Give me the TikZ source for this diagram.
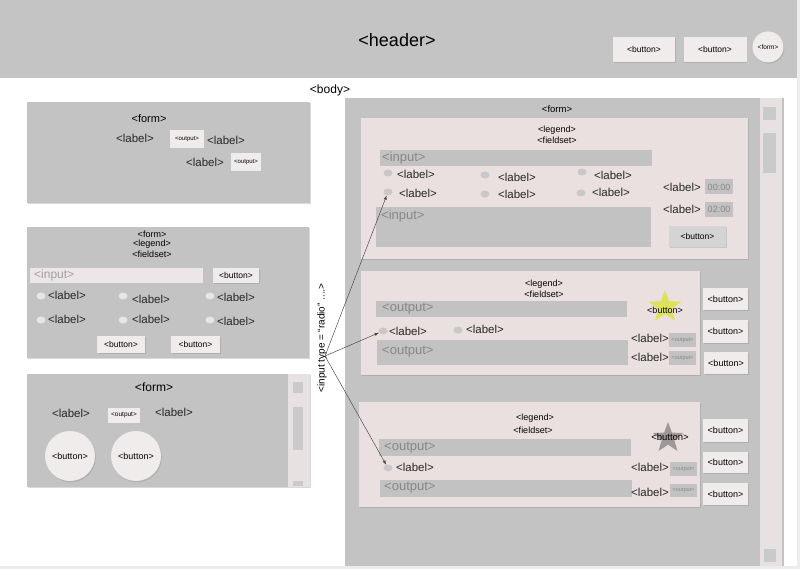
\documentclass[tikz,border=0pt]{standalone}
\usepackage{fontspec}
\setmainfont{Liberation Sans}
\usepackage{tikz}
\usetikzlibrary{shapes.geometric, shadows}
\definecolor{hdrgray}{RGB}{196,196,196}
\definecolor{formgray}{RGB}{195,195,195}
\definecolor{fsetpink}{RGB}{235,224,224}
\definecolor{btnpink}{RGB}{241,236,236}
\definecolor{barpink}{RGB}{237,230,230}
\definecolor{bargray}{RGB}{194,194,194}
\definecolor{scrollpink}{RGB}{232,225,225}
\definecolor{thumbgray}{RGB}{202,202,202}
\definecolor{dotgray}{RGB}{200,200,200}
\definecolor{dotlight}{RGB}{230,230,230}
\definecolor{hintgray}{RGB}{135,135,135}
\definecolor{framegray}{RGB}{236,236,236}
\definecolor{staryellow}{RGB}{222,226,90}
\definecolor{stargray}{RGB}{160,152,152}
\newcommand{\fsz}[1]{\fontsize{#1}{#1}\selectfont}

\begin{document}
\begin{tikzpicture}[x=1pt, y=-1pt, >=latex,
    soft/.style={drop shadow={shadow xshift=0.8pt, shadow yshift=-1.2pt, opacity=0.3}},
    btn/.style={fill=btnpink, inner sep=0pt, font=\fsz{8.5}, soft},
    outbox/.style={fill=btnpink, inner sep=0pt, font=\fsz{6}},
    tinyout/.style={fill=bargray, inner sep=0pt, text=hintgray, font=\fsz{5.5}, minimum width=27, minimum height=14},
    timebox/.style={fill=bargray, inner sep=1pt, text=hintgray, font=\fsz{9}, minimum width=28, minimum height=15},
    radio/.style={ellipse, fill=dotgray, minimum width=9, minimum height=7, inner sep=0pt},
    lbl/.style={font=\fsz{11.5}, inner sep=0pt, text=black!85},
    hint/.style={font=\fsz{13}, inner sep=0pt, text=hintgray, anchor=west},
    small/.style={font=\fsz{9}, inner sep=0pt},
  ]
    \useasboundingbox (0,0) rectangle (800,569);
    \fill[framegray] (797,0) rectangle (800,569);
    \fill[framegray] (0,566) rectangle (800,569);

    % header
    \fill[hdrgray] (0,0) rectangle (797,78);
    \node[font=\fsz{18}] (header) at (397,40) {<header>};
    \node[btn, minimum width=62, minimum height=25] (hbtn1) at (644,49.5) {<button>};
    \node[btn, minimum width=63, minimum height=25] (hbtn2) at (715,49.5) {<button>};
    \node[btn, circle, minimum size=31, font=\fsz{6.5}] (hform) at (768,47) {<form>};
    \node[font=\fsz{12}] (body) at (330,90) {<body>};

    % left form 1
    \fill[formgray, soft] (27,102) rectangle (310,203);
    \node[font=\fsz{11}] (f1) at (149,119) {<form>};
    \node[lbl] (f1l1) at (135,138) {<label>};
    \node[outbox, minimum width=34, minimum height=18] (f1o1) at (187,139) {<output>};
    \node[lbl] (f1l2) at (226,140) {<label>};
    \node[lbl] (f1l3) at (205,162) {<label>};
    \node[outbox, minimum width=30, minimum height=18] (f1o2) at (246,162) {<output>};

    % left form 2
    \fill[formgray, soft] (27,227) rectangle (309,358);
    \node[small] (f2) at (152,234) {<form>};
    \node[small] (f2lg) at (152,244) {<legend>};
    \node[small] (f2fs) at (152,254) {<fieldset>};
    \fill[barpink] (30,268) rectangle (203,283);
    \node[hint, font=\fsz{12}, text=hintgray!80] (f2in) at (34,275.5) {<input>};
    \node[btn, minimum width=46, minimum height=14] (f2b1) at (236,275.5) {<button>};
    \foreach \x [count=\i] in {41,123,210} {
        \node[radio, fill=dotlight] (f2ra\i) at (\x,296) {};
        \node[radio, fill=dotlight] (f2rb\i) at (\x,320) {};
    }
    \foreach \x/\ya/\yb [count=\i] in {67/295/319, 151/299/319, 236/297/321} {
        \node[lbl] (f2la\i) at (\x,\ya) {<label>};
        \node[lbl] (f2lb\i) at (\x,\yb) {<label>};
    }
    \node[btn, minimum width=48, minimum height=17] (f2b2) at (121,344.5) {<button>};
    \node[btn, minimum width=49, minimum height=17] (f2b3) at (195.5,344.5) {<button>};

    % left form 3
    \fill[formgray, soft] (27,374) rectangle (310,487);
    \fill[scrollpink] (288,374) rectangle (310,487);
    \fill[thumbgray] (293,382) rectangle (303,393);
    \fill[thumbgray] (293,407) rectangle (303,450);
    \fill[thumbgray] (293,481) rectangle (303,486);
    \node[font=\fsz{12}] (f3) at (154,387) {<form>};
    \node[lbl] (f3l1) at (71,413) {<label>};
    \node[outbox, minimum width=32, minimum height=15, font=\fsz{6.5}] (f3o) at (124,415.5) {<output>};
    \node[lbl] (f3l2) at (174,412) {<label>};
    \node[btn, circle, minimum size=50, font=\fsz{9}] (f3b1) at (70,456) {<button>};
    \node[btn, circle, minimum size=50, font=\fsz{9}] (f3b2) at (136,456) {<button>};

    % big form on the right
    \fill[formgray] (345,98) rectangle (784,566);
    \fill[scrollpink] (760,98) rectangle (782,566);
    \fill[thumbgray] (763,107) rectangle (776,120);
    \fill[thumbgray] (763,133) rectangle (776,173);
    \fill[thumbgray] (764,549) rectangle (776,562);
    \node[small, font=\fsz{9.5}] (bform) at (557,109) {<form>};

    % fieldset 1
    \fill[fsetpink, soft] (361,118) rectangle (748,259);
    \node[small] (fs1lg) at (557,130) {<legend>};
    \node[small] (fs1fs) at (557,140) {<fieldset>};
    \fill[bargray] (380,150) rectangle (652,166);
    \node[hint] (fs1in1) at (382,158) {<input>};
    \foreach \x/\y [count=\i] in {388/173, 485/175, 582/172} \node[radio] (fs1ra\i) at (\x,\y) {};
    \foreach \x/\y [count=\i] in {388/192, 485/194, 581/193} \node[radio] (fs1rb\i) at (\x,\y) {};
    \foreach \x/\y [count=\i] in {416/174, 517/177, 613/175} \node[lbl] (fs1la\i) at (\x,\y) {<label>};
    \foreach \x/\y [count=\i] in {418/193, 517/194, 611/192} \node[lbl] (fs1lb\i) at (\x,\y) {<label>};
    \fill[bargray] (376,207) rectangle (651,247);
    \node[hint] (fs1in2) at (381,216) {<input>};
    \node[lbl] (fs1tl1) at (682,187) {<label>};
    \node[timebox] (fs1t1) at (719,187) {00:00};
    \node[lbl] (fs1tl2) at (682,209) {<label>};
    \node[timebox] (fs1t2) at (719,209.5) {02:00};
    \node[btn, fill=black!17, minimum width=57, minimum height=21] (fs1b) at (697.5,236.5) {<button>};

    % fieldset 2
    \fill[fsetpink, soft] (361,271) rectangle (700,375);
    \node[small] (fs2lg) at (544,284) {<legend>};
    \node[small] (fs2fs) at (544,294) {<fieldset>};
    \fill[bargray] (376,301) rectangle (627,317);
    \node[hint] (fs2o1) at (382,309) {<output>};
    \node[star, star points=5, star point ratio=2.4, fill=staryellow, minimum size=34, inner sep=0pt] (fs2star) at (665,307) {};
    \node[small] (fs2sb) at (665,310) {<button>};
    \node[radio] (fs2r1) at (383,331) {};
    \node[lbl] (fs2l1) at (408,331) {<label>};
    \node[radio] (fs2r2) at (458,330) {};
    \node[lbl] (fs2l2) at (485,329) {<label>};
    \fill[bargray] (377,340) rectangle (628,365);
    \node[hint] (fs2o2) at (382,352) {<output>};
    \node[lbl] (fs2l3) at (650,338) {<label>};
    \node[tinyout] (fs2o3) at (682.5,340) {<output>};
    \node[lbl] (fs2l4) at (650,357) {<label>};
    \node[tinyout] (fs2o4) at (682.5,358) {<output>};
    \node[btn, font=\fsz{9}, minimum width=45, minimum height=22] (fs2b1) at (725.5,299) {<button>};
    \node[btn, font=\fsz{9}, minimum width=45, minimum height=23] (fs2b2) at (725.5,331.5) {<button>};
    \node[btn, font=\fsz{9}, minimum width=44, minimum height=22] (fs2b3) at (726,363) {<button>};

    % fieldset 3
    \fill[fsetpink, soft] (359,402) rectangle (700,507);
    \node[small] (fs3lg) at (535,418) {<legend>};
    \node[small] (fs3fs) at (533,430) {<fieldset>};
    \fill[bargray] (379,439) rectangle (631,456);
    \node[hint] (fs3o1) at (384,447.5) {<output>};
    \node[star, star points=5, star point ratio=2.4, fill=stargray, minimum size=32, inner sep=0pt] (fs3star) at (668,438) {};
    \node[small, font=\fsz{9.5}] (fs3sb) at (670,437) {<button>};
    \node[radio] (fs3r1) at (388,468) {};
    \node[lbl] (fs3l1) at (415,467) {<label>};
    \fill[bargray] (380,480) rectangle (632,497);
    \node[hint] (fs3o2) at (384,488) {<output>};
    \node[lbl] (fs3l2) at (650,467) {<label>};
    \node[tinyout] (fs3o3) at (683.5,469) {<output>};
    \node[lbl] (fs3l3) at (650,492) {<label>};
    \node[tinyout, minimum height=13] (fs3o4) at (683.5,490.5) {<output>};
    \node[btn, font=\fsz{9}, minimum width=45, minimum height=23] (fs3b1) at (725.5,430.5) {<button>};
    \node[btn, font=\fsz{9}, minimum width=45, minimum height=21] (fs3b2) at (725.5,462.5) {<button>};
    \node[btn, font=\fsz{9}, minimum width=45, minimum height=22] (fs3b3) at (725.5,494) {<button>};

    % radio note and its arrows
    \node[font=\fsz{10}, rotate=90, inner sep=0pt] (radionote) at (322,338) {<input type = ``radio'' ....>};
    \coordinate (fork) at (325,356);
    \foreach \t in {fs1rb1, fs2r1, fs3r1} \draw[->, black!75, line width=0.45pt] (fork) -- (\t);
\end{tikzpicture}
\end{document}
